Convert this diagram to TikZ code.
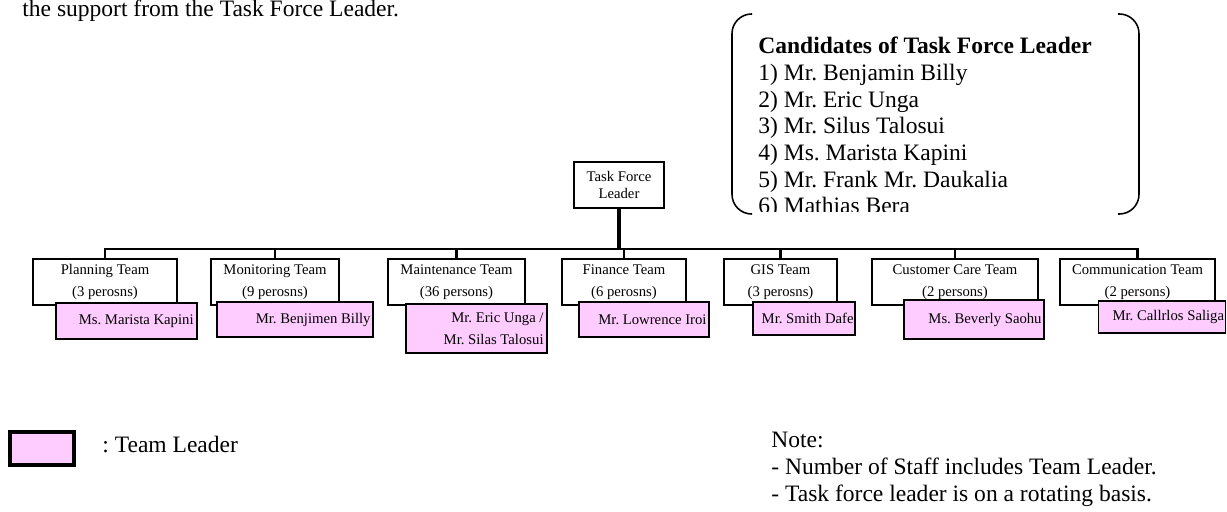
\documentclass[tikz,border=0pt]{standalone}
\usepackage{fontspec}
\setmainfont{Liberation Serif}
\usepackage{tikz}
\usetikzlibrary{positioning}
\definecolor{colorTL}{HTML}{FFCCFF}
\newcommand{\pxu}{0.51pt}
\frenchspacing

\begin{document}
\begin{tikzpicture}[x=\pxu, y=-\pxu,
        big/.style={inner sep=0pt, font=\fontsize{12}{13.6}\selectfont},
        team/.style={draw, line width=0.6pt, fill=white, minimum height=46*\pxu, inner sep=0pt, align=center, font=\fontsize{7.5}{11.2}\selectfont},
        tlbox/.style={draw, line width=1pt, fill=colorTL, inner sep=0pt},
        tltext/.style={inner sep=0pt, align=right, font=\fontsize{7.5}{11.2}\selectfont}]
        \useasboundingbox (0,0) rectangle (1227,512);
        \node[big, anchor=base west] (intro) at (22,17) {the support from the Task Force Leader.};
        % candidates
        \begin{scope}
            \clip (725,0) rectangle (1145,212);
            \node[big, anchor=north west, align=left] (cand) at (758,37) {\textbf{Candidates of Task Force Leader}\\1) Mr. Benjamin Billy\\2) Mr. Eric Unga\\3) Mr. Silus Talosui\\4) Ms. Marista Kapini\\5) Mr. Frank Mr. Daukalia\\6) Mathias Bera};
        \end{scope}
        \draw[line width=0.8pt, rounded corners=10pt] (752,14) -- (732,14) -- (732,214) -- (752,214);
        \draw[line width=0.8pt, rounded corners=10pt] (1118,14) -- (1139,14) -- (1139,214) -- (1118,214);
        % teams
        \node[team, minimum width=90*\pxu, font=\fontsize{7.5}{8.2}\selectfont] (lead) at (619,185) {Task Force\\Leader};
        \node[team, minimum width=144*\pxu] (t1) at (105,282) {Planning Team\\(3 perosns)};
        \node[team, minimum width=128*\pxu] (t2) at (275,282) {Monitoring Team\\(9 perosns)};
        \node[team, minimum width=137*\pxu] (t3) at (456.5,282) {Maintenance Team\\(36 persons)};
        \node[team, minimum width=124*\pxu] (t4) at (624,282) {Finance Team\\(6 perosns)};
        \node[team, minimum width=113*\pxu] (t5) at (780.5,282) {GIS Team\\(3 perosns)};
        \node[team, minimum width=166*\pxu] (t6) at (955,282) {Customer Care Team\\(2 persons)};
        \node[team, minimum width=155*\pxu] (t7) at (1137.5,282) {Communication Team\\(2 persons)};
        \coordinate (bar) at (0,249);
        \draw[line width=1.8pt] (lead.south) -- (lead.south |- bar);
        \draw[line width=1.4pt] (t1.north) |- (t7.north |- bar) -- (t7.north);
        \foreach \t in {t2,t3,t4,t5,t6}
            \draw[line width=1.2pt] (\t.north) -- (\t.north |- bar);
        % team leaders
        \node[tlbox, minimum width=141*\pxu, minimum height=36*\pxu] (p1) at (126.5,321) {};
        \node[tltext, anchor=east] (n1) at ([xshift=-4*\pxu]p1.east) {Ms. Marista Kapini};
        \node[tlbox, minimum width=156*\pxu, minimum height=35*\pxu] (p2) at (295,319.5) {};
        \node[tltext, anchor=east] (n2) at ([xshift=-3*\pxu]p2.east) {Mr. Benjimen Billy};
        \node[tlbox, minimum width=141*\pxu, minimum height=49*\pxu] (p3) at (476.5,328.5) {};
        \node[tltext, anchor=east] (n3) at ([xshift=-4*\pxu]p3.east) {Mr. Eric Unga /\\Mr. Silas Talosui};
        \node[tlbox, minimum width=130*\pxu, minimum height=35*\pxu] (p4) at (644,319.5) {};
        \node[tltext, anchor=east] (n4) at ([xshift=-3*\pxu]p4.east) {Mr. Lowrence Iroi};
        \node[tlbox, minimum width=102*\pxu, minimum height=33*\pxu] (p5) at (804,318.5) {};
        \node[tltext, anchor=east] (n5) at ([xshift=-2*\pxu]p5.east) {Mr. Smith Dafe};
        \node[tlbox, minimum width=140*\pxu, minimum height=39*\pxu] (p6) at (974,319.5) {};
        \node[tltext, anchor=east] (n6) at ([xshift=-3*\pxu]p6.east) {Ms. Beverly Saohu};
        \node[tlbox, minimum width=127*\pxu, minimum height=32*\pxu] (p7) at (1162,317) {};
        \node[tltext, anchor=east] (n7) at ([xshift=-2*\pxu]p7.east) {Mr. Callrlos Saliga};
        % legend and notes
        \node[tlbox, line width=1.8pt, minimum width=64*\pxu, minimum height=33*\pxu] (key) at (42,448.5) {};
        \node[big, anchor=base west] (keytext) at (102,453) {: Team Leader};
        \node[big, anchor=base west] (note0) at (771,448) {Note:};
        \node[big, anchor=base west] (note1) at (771,475) {- Number of Staff includes Team Leader.};
        \node[big, anchor=base west] (note2) at (771,502) {- Task force leader is on a rotating basis.};
    \end{tikzpicture}
\end{document}
